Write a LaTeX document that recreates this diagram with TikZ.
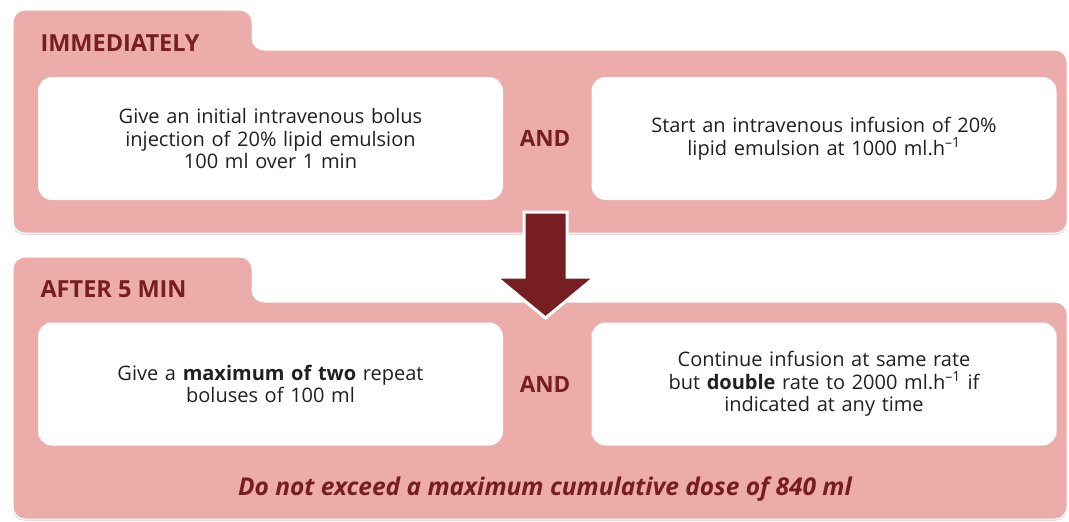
\documentclass[tikz,border=0pt]{standalone}
\usepackage{fontspec}
\setmainfont{Open Sans}
\usetikzlibrary{positioning,shadows}
\definecolor{panelpink}{HTML}{EBACAA}
\definecolor{darkred}{HTML}{761E22}
\definecolor{bodytext}{HTML}{231F20}

\begin{document}
\begin{tikzpicture}[x=1pt,y=-1pt]
\tikzset{panel/.style = {fill=panelpink, draw=white, line width=1pt, rounded corners=12pt,
  drop shadow={shadow xshift=0pt, shadow yshift=-2pt, opacity=0.25, fill=gray}}}
\tikzset{stepbox/.style = {shape=rectangle, fill=white, rounded corners=14pt, minimum width=465pt,
  minimum height=123pt, text width=455pt, align=center, text=bodytext,
  font=\fontsize{20}{22.5}\selectfont}}
\tikzset{heading/.style = {anchor=base west, text=darkred, font=\fontsize{23.5}{26}\selectfont\bfseries}}
\tikzset{andlabel/.style = {text=darkred, font=\fontsize{22.5}{24}\selectfont\bfseries}}
\useasboundingbox (0,0) rectangle (1069,522);

%panels
\path[panel] (13,233) -- (13,10) -- (252,10) -- (252,50) -- (1067,50) -- (1067,233) -- cycle;
\path[panel] (13,519) -- (13,257) -- (252,257) -- (252,302) -- (1067,302) -- (1067,519) -- cycle;

\node[heading] (now) at (37,51) {IMMEDIATELY};
\node[heading] (later) at (37,297.5) {AFTER 5 MIN};

%arrow between the panels
\draw[white, line width=3pt, fill=darkred, line join=miter]
  (524,212) -- (567,212) -- (567,277) -- (595,277) -- (545.5,318) -- (496,277) -- (524,277) -- cycle;

\node[stepbox] (bolus) at (270.5,138.5)
  {Give an initial intravenous bolus\\ injection of 20\% lipid emulsion\\ 100 ml over 1 min};
\node[andlabel] (and1) at (545,138.5) {AND};
\node[stepbox] (infusion) at (824,138.5)
  {Start an intravenous infusion of 20\%\\ lipid emulsion at 1000 ml.h\textsuperscript{–1}};

\node[stepbox] (repeat) at (270.5,384)
  {Give a \textbf{maximum of two} repeat\\ boluses of 100 ml};
\node[andlabel] (and2) at (545,384) {AND};
\node[stepbox] (double) at (824,384)
  {Continue infusion at same rate\\ but \textbf{double} rate to 2000 ml.h\textsuperscript{–1} if\\ indicated at any time};

\node[text=darkred, font=\fontsize{24.5}{27}\selectfont\bfseries\itshape] (limit) at (545,489)
  {Do not exceed a maximum cumulative dose of 840 ml};
\end{tikzpicture}
\end{document}
